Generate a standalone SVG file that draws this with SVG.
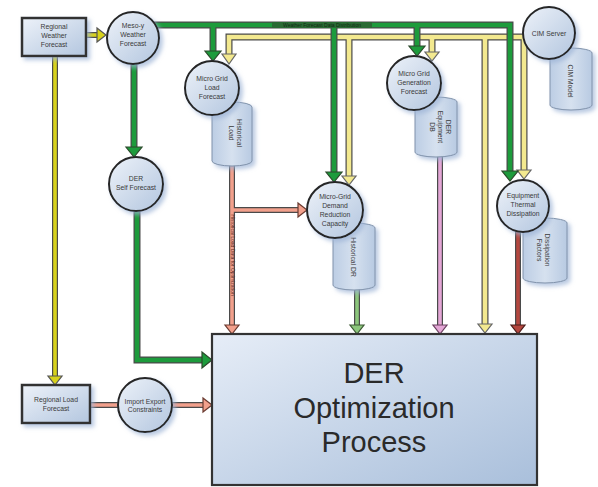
<svg xmlns="http://www.w3.org/2000/svg" width="598" height="487" viewBox="0 0 598 487">
<style>
text{font-family:"Liberation Sans",Arial,sans-serif;fill:#3a3a3a;text-anchor:middle}
.t{font-size:6.8px}
.node{fill:url(#gNode);stroke:#262626;stroke-width:2}
.box{fill:url(#gNode);stroke:#333;stroke-width:2.5}
.cyl{fill:url(#gCyl);stroke:#8092aa;stroke-width:1}
.sh{filter:url(#shadow)}
.o{fill:none;stroke:#4a4a4a;stroke-linejoin:miter;stroke-linecap:butt}
.ow{stroke-width:7}
.on{stroke-width:6}
.c{fill:none;stroke-linejoin:miter;stroke-linecap:butt}
.cw{stroke-width:4.6}
.cn{stroke-width:3.6}
.grn{stroke:#1d9b3c}
.ylw{stroke:#f3e98f}
.byl{stroke:#d8d21c}
.slm{stroke:#f2a08c}
.lgr{stroke:#8cc67c}
.pnk{stroke:#e4a6d6}
.drd{stroke:#b4473f}
.hg{fill:#1d9b3c;stroke:#2b4a2b;stroke-width:1.2}
.hy{fill:#f3e98f;stroke:#666;stroke-width:1.2}
.hb{fill:#d8d21c;stroke:#555;stroke-width:1.2}
.hs{fill:#f2a08c;stroke:#6a3a30;stroke-width:1.2}
.hl{fill:#8cc67c;stroke:#3d5a35;stroke-width:1.2}
.hp{fill:#e4a6d6;stroke:#6a4060;stroke-width:1.2}
.hd{fill:#b4473f;stroke:#4a1c18;stroke-width:1.2}
</style>
<defs>
<linearGradient id="gNode" x1="0" y1="0" x2="1" y2="1">
<stop offset="0" stop-color="#edf2f9"/>
<stop offset="1" stop-color="#b3c6df"/>
</linearGradient>
<linearGradient id="gBig" x1="0" y1="0" x2="1" y2="1">
<stop offset="0" stop-color="#e6edf7"/>
<stop offset="1" stop-color="#a9bfdb"/>
</linearGradient>
<linearGradient id="gCyl" x1="0" y1="0" x2="1" y2="0">
<stop offset="0" stop-color="#bccde4"/>
<stop offset="0.5" stop-color="#d6e1ef"/>
<stop offset="1" stop-color="#b8cae2"/>
</linearGradient>
<filter id="shadow" x="-30%" y="-30%" width="160%" height="160%">
<feDropShadow dx="3" dy="3" stdDeviation="2" flood-color="#9db4d6" flood-opacity="0.7"/>
</filter>
</defs>

<g id="connectors">
<path class="o ow" d="M524 37 H229 V54 M349 37 V176 M432 37 V52 M485 37 V324 M524 37 V170"/>
<path class="c cw ylw" d="M524 37 H229 V54 M349 37 V176 M432 37 V52 M485 37 V324 M524 37 V170"/>
<polygon class="hy" points="222,54 236,54 229,64"/>
<polygon class="hy" points="342,176 356,176 349,185"/>
<polygon class="hy" points="425,52 439,52 432,61"/>
<polygon class="hy" points="478,324 492,324 485,333"/>
<polygon class="hy" points="517,170 531,170 524,179"/>
<path class="o ow" d="M152 25 H510 V171 M213 25 V52 M334 25 V173 M417 25 V47"/>
<path class="c cw grn" d="M152 25 H510 V171 M213 25 V52 M334 25 V173 M417 25 V47"/>
<rect x="272" y="22" width="100" height="6" fill="#2a6a34"/>
<text x="322" y="27" style="font-size:5px;fill:#0f2a12">Weather Forecast Data Distribution</text>
<polygon class="hg" points="205,51 221,51 213,61"/>
<polygon class="hg" points="326,172 342,172 334,182"/>
<polygon class="hg" points="409,46 425,46 417,56"/>
<polygon class="hg" points="502,171 518,171 510,181"/>
<path class="o ow" d="M134 62 V148 M137 210 V360 H203"/>
<path class="c cw grn" d="M134 62 V148 M137 210 V360 H203"/>
<polygon class="hg" points="126,147 142,147 134,157"/>
<polygon class="hg" points="202,352 202,368 212,360"/>
<path class="o on" d="M86 35 H98 M55 56 V377"/>
<path class="c cn byl" d="M86 35 H98 M55 56 V377"/>
<polygon class="hb" points="97,28 97,42 106,35"/>
<polygon class="hb" points="48,376 62,376 55,385"/>
<path class="o on" d="M232 160 V326 M232 210 H299 M90 405 H204"/>
<path class="c cn slm" d="M232 160 V326 M232 210 H299 M90 405 H204"/>
<text transform="translate(230.5 255) rotate(90)" style="font-size:5px;fill:#5a2e26">Historical Load Data for Optimization</text>
<polygon class="hs" points="225,325 239,325 232,334"/>
<polygon class="hs" points="298,203 298,217 307,210"/>
<polygon class="hs" points="203,398 203,412 212,405"/>
<path class="o on" d="M357 285 V326"/>
<path class="c cn lgr" d="M357 285 V326"/>
<polygon class="hl" points="350,325 364,325 357,334"/>
<path class="o on" d="M440 152 V326"/>
<path class="c cn pnk" d="M440 152 V326"/>
<polygon class="hp" points="433,325 447,325 440,334"/>
<path class="o on" d="M518 228 V326"/>
<path class="c cn drd" d="M518 228 V326"/>
<polygon class="hd" points="511,325 525,325 518,334"/>
</g>

<g id="regional-weather-forecast">
<rect class="box sh" x="22" y="18" width="64" height="38"/>
<text class="t" x="54" y="29">Regional</text>
<text class="t" x="54" y="38">Weather</text>
<text class="t" x="54" y="47">Forecast</text>
</g>

<g id="meso-weather-forecast">
<circle class="node sh" cx="133" cy="38" r="26"/>
<text class="t" x="133" y="28">Meso-y</text>
<text class="t" x="133" y="37">Weather</text>
<text class="t" x="133" y="46">Forecast</text>
</g>

<g id="historical-load">
<path class="cyl sh" d="M212 107 A20 5 0 0 1 252 107 V161 A20 5 0 0 1 212 161 Z"/>
<text class="t" transform="translate(237 133) rotate(90)">Historical</text>
<text class="t" transform="translate(229 133) rotate(90)">Load</text>
</g>

<g id="micro-grid-load-forecast">
<circle class="node sh" cx="212" cy="88" r="27"/>
<text class="t" x="212" y="81">Micro Grid</text>
<text class="t" x="212" y="90">Load</text>
<text class="t" x="212" y="99">Forecast</text>
</g>

<g id="der-equipment-db">
<path class="cyl sh" d="M415 102 A21 5 0 0 1 457 102 V152 A21 5 0 0 1 415 152 Z"/>
<text class="t" transform="translate(446 127) rotate(90)">DER</text>
<text class="t" transform="translate(438 127) rotate(90)">Equipment</text>
<text class="t" transform="translate(430 127) rotate(90)">DB</text>
</g>

<g id="micro-grid-generation-forecast">
<circle class="node sh" cx="414" cy="83" r="27"/>
<text class="t" x="414" y="76">Micro Grid</text>
<text class="t" x="414" y="85">Generation</text>
<text class="t" x="414" y="94">Forecast</text>
</g>

<g id="cim-model">
<path class="cyl sh" d="M550 53 A21 5 0 0 1 592 53 V105 A21 5 0 0 1 550 105 Z"/>
<text class="t" transform="translate(568 81) rotate(90)">CIM Model</text>
</g>

<g id="cim-server">
<circle class="node sh" cx="549" cy="33" r="26"/>
<text class="t" x="549" y="36">CIM Server</text>
</g>

<g id="der-self-forecast">
<circle class="node sh" cx="136" cy="184" r="27"/>
<text class="t" x="136" y="181">DER</text>
<text class="t" x="136" y="190">Self Forecast</text>
</g>

<g id="historical-dr">
<path class="cyl sh" d="M333 228 A21 5 0 0 1 375 228 V285 A21 5 0 0 1 333 285 Z"/>
<text class="t" transform="translate(351 257) rotate(90)">Historical DR</text>
</g>

<g id="micro-grid-demand-reduction-capacity">
<circle class="node sh" cx="335" cy="210" r="28"/>
<text class="t" x="335" y="199">Micro-Grid</text>
<text class="t" x="335" y="208">Demand</text>
<text class="t" x="335" y="217">Reduction</text>
<text class="t" x="335" y="226">Capacity</text>
</g>

<g id="dissipation-factors">
<path class="cyl sh" d="M523 223 A22 5 0 0 1 567 223 V278 A22 5 0 0 1 523 278 Z"/>
<text class="t" transform="translate(545 250) rotate(90)">Dissipation</text>
<text class="t" transform="translate(537 250) rotate(90)">Factors</text>
</g>

<g id="equipment-thermal-dissipation">
<circle class="node sh" cx="523" cy="206" r="26"/>
<text class="t" x="523" y="198">Equipment</text>
<text class="t" x="523" y="207">Thermal</text>
<text class="t" x="523" y="216">Dissipation</text>
</g>

<g id="regional-load-forecast">
<rect class="box sh" x="22" y="385" width="68" height="38"/>
<text class="t" x="56" y="402">Regional Load</text>
<text class="t" x="56" y="411">Forecast</text>
</g>

<g id="import-export-constraints">
<circle class="node sh" cx="145" cy="405" r="27"/>
<text class="t" x="145" y="404">Import Export</text>
<text class="t" x="145" y="412">Constraints</text>
</g>

<g id="der-optimization-process">
<rect x="212" y="334" width="325" height="151" fill="url(#gBig)" stroke="#333" stroke-width="2.2"/>
<text x="374" y="383" style="font-size:29px;fill:#2a2a2a">DER</text>
<text x="374" y="418" style="font-size:29px;fill:#2a2a2a">Optimization</text>
<text x="374" y="452" style="font-size:29px;fill:#2a2a2a">Process</text>
</g>
</svg>
